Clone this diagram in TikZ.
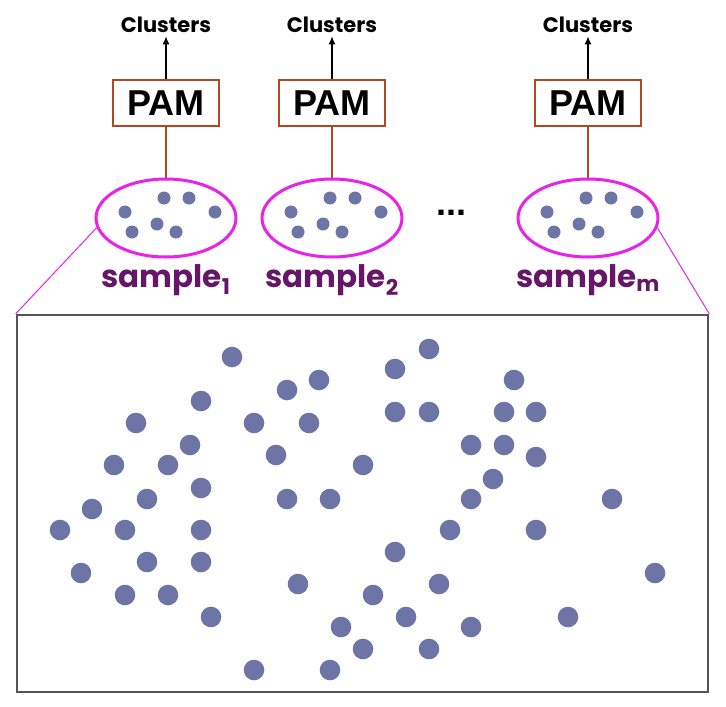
\documentclass[tikz,border=0pt]{standalone}
\usepackage{fontspec}
\setmainfont{Liberation Sans}
\newfontfamily\geofont{Poppins}
\usetikzlibrary{shapes.geometric, arrows.meta, positioning}
\definecolor{pamred}{RGB}{178,72,32}
\definecolor{smpmag}{RGB}{230,35,230}
\definecolor{smplab}{RGB}{102,22,102}
\definecolor{ptblue}{RGB}{108,117,166}
\definecolor{boxgray}{RGB}{85,85,85}

\begin{document}
\begin{tikzpicture}[x=1pt, y=-1pt,
    pambox/.style={draw=pamred, line width=2.8pt, minimum width=106pt, minimum height=46pt, inner sep=0pt, font=\fontsize{36}{36}\selectfont\bfseries},
    clus/.style={font=\geofont\fontsize{21}{21}\selectfont\bfseries},
    smp/.style={draw=smpmag, line width=3pt, ellipse, minimum width=140pt, minimum height=78pt, inner sep=0pt},
    smplabel/.style={text=smplab, inner sep=0pt, font=\geofont\fontsize{31}{31}\selectfont\bfseries}]
  \useasboundingbox (0,0) rectangle (726,707);
  \foreach \c/\k in {166/1, 332/2, 588/m} {
    \node (pam\k) [pambox] at (\c,103) {PAM};
    \node (cl\k) [clus] at (\c,25) {Clusters};
    \node (smp\k) [smp] at (\c,218) {};
    \node (lab\k) [smplabel, below=6pt of smp\k] {sample\textsubscript{\k}};
    \draw [-{Latex[length=8pt, width=7pt]}, line width=1.2pt] (pam\k) -- (cl\k);
    \draw [pamred, line width=2.5pt] (pam\k) -- (smp\k);
    \foreach \dx/\dy in {-41/-6, -2/-20, 23/-20, 49/-6, -34/14, -9/6, 10/14}
      \fill [ptblue] ([shift={(\dx,\dy)}]smp\k.center) circle (6.5);
  }
  \node (gap) at (451,213) {\fontsize{36}{36}\selectfont\bfseries...};
  \node (field) [draw=boxgray, line width=2.5pt, minimum width=691pt, minimum height=377pt, inner sep=0pt] at (362.5,503.5) {};
  \draw [smpmag, line width=1pt] (smp1.188) -- (field.north west);
  \draw [smpmag, line width=1pt] (smpm.352) -- (field.north east);
  \foreach \x/\y in {232/357, 429/349, 395/369, 319/380, 287/390, 514/380, 201/401, 136/423,
      254/423, 309/423, 395/412, 429/412, 504/412, 536/412, 190/445, 276/455, 471/445, 504/445,
      114/465, 168/465, 363/465, 536/457, 493/479, 147/499, 201/488, 287/499, 330/499, 471/499,
      612/499, 92/509, 60/530, 125/530, 201/530, 450/530, 536/530, 395/552, 147/562, 201/562,
      81/573, 298/584, 439/584, 655/573, 125/595, 168/595, 373/595, 211/617, 406/617, 568/617,
      341/627, 471/627, 363/649, 429/649, 254/670, 330/670}
    \fill [ptblue] (\x,\y) circle (10.3);
\end{tikzpicture}
\end{document}
